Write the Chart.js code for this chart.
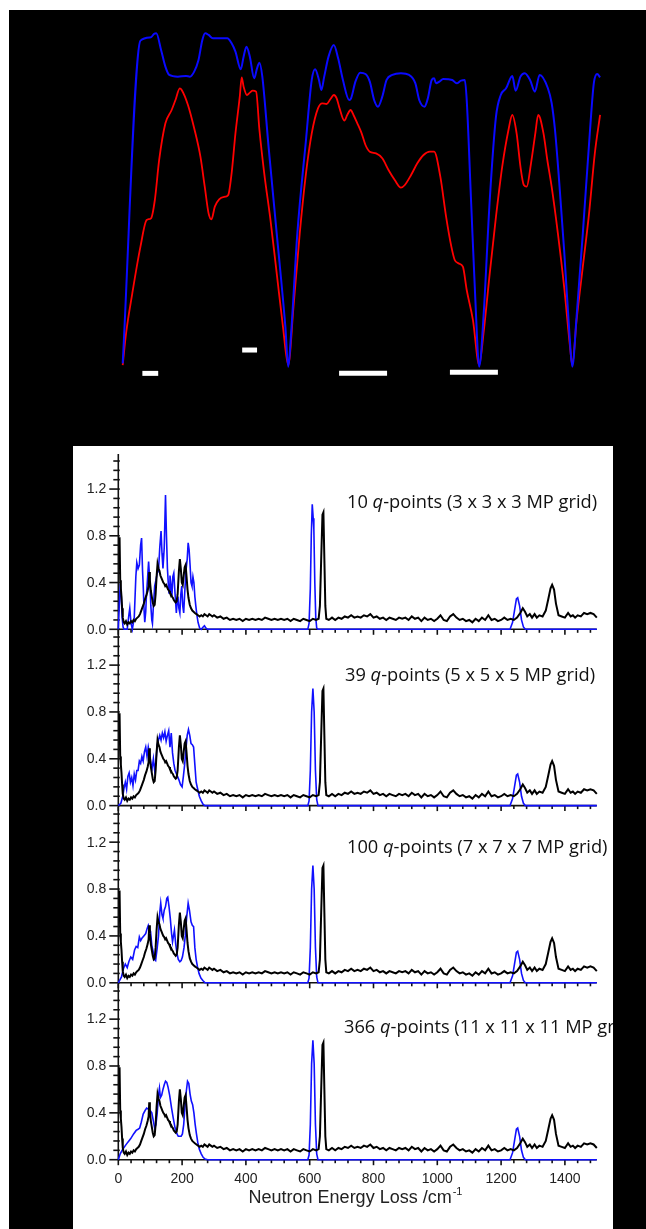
<!DOCTYPE html>
<html><head><meta charset="utf-8">
<script src="https://cdn.jsdelivr.net/npm/chart.js@4.4.1/dist/chart.umd.min.js"></script>
<style>
html,body{margin:0;padding:0;background:#fff;}
#frame{position:absolute;left:9px;top:10px;width:637px;height:1219px;background:#000;}
#sheet{position:absolute;left:73px;top:446px;width:540px;height:783px;background:#fff;}
canvas{position:absolute;}
</style></head><body>
<div id="frame"></div><div id="sheet"></div>
<script>
// ---------- TOP FIGURE: two dispersion branches (arbitrary units) ----------
const blueBranch = [[0,1],[3.7,97.8],[5.9,98.8],[6.5,99.8],[7.0,100],[8.0,95],[8.9,90],[9.7,87.5],[11.5,87],[13.2,87.2],[14.0,87],[14.9,88.5],[15.8,92],[16.6,98],[17.2,100],[17.9,99.5],[18.8,98.5],[21.8,98.5],[22.7,97],[23.5,94.5],[24.6,89.2],[25.2,93],[25.8,96],[26.5,93],[27.4,86.5],[28.0,89.5],[28.5,91.2],[29.1,87],[30.4,66],[32.1,40],[33.9,12],[34.5,0],[35.1,10],[36.4,40],[38.2,68],[39.4,86],[40.1,89.2],[40.9,86],[41.4,83],[42.0,87],[42.9,93],[44.0,96.5],[44.9,92.5],[45.9,86],[47.2,80],[47.6,80.5],[48.5,85.5],[49.5,88.2],[50.6,87.8],[51.5,85.5],[52.4,80],[53.2,78],[54.1,81],[55.0,86],[56.2,87.5],[58.0,88],[59.7,87.5],[61.0,85],[61.8,80],[62.9,78],[63.6,80.5],[64.4,86],[64.9,86.5],[65.3,85],[66.0,85.5],[66.8,86.3],[68.7,86],[69.6,85],[70.5,85.8],[71.3,86],[71.7,80],[72.6,50],[73.5,20],[74.3,0],[75.2,15],[76.5,50],[77.8,75],[78.8,81.5],[79.9,83.5],[81.2,87.2],[81.9,82.8],[82.9,87],[83.8,88],[84.9,86],[85.9,82.5],[86.9,87.5],[88.6,83.6],[89.4,79.1],[90.1,71],[91.0,55],[92.0,35],[93.1,10],[93.7,0],[94.6,15],[95.9,40],[97.4,71],[98.2,85.1],[98.9,87.8],[99.5,86.8]];
const redBranch = [[0,0.5],[0.7,10],[2.0,22],[3.7,36],[5.0,44],[5.9,44.5],[6.7,50],[7.6,62],[8.9,73],[10.2,77],[11.0,80],[11.9,83.5],[12.3,83],[13.6,78.5],[14.9,71.5],[16.2,63],[17.1,54],[17.9,46],[18.5,44.2],[19.2,48],[20.1,50.2],[21.4,51],[22.0,51.5],[22.7,58],[23.5,70],[24.4,81],[24.8,86.8],[25.2,84],[25.9,81.5],[26.5,82.2],[27.1,82.8],[27.8,82.5],[28.5,71],[29.5,58],[30.8,44],[32.1,28],[33.4,12],[34.5,0.5],[35.6,18],[36.9,40],[38.2,58],[39.4,70],[40.7,77.5],[41.6,79],[42.5,78.8],[43.3,80.3],[44.0,81.5],[44.6,80.5],[45.2,77.5],[46.2,73.8],[46.8,75.5],[47.5,77],[48.1,75.5],[48.9,73],[49.8,70],[50.6,66.5],[51.5,64.5],[52.8,64],[54.1,62.5],[55.4,59],[56.7,56],[58.0,53.7],[58.8,54.5],[60.1,57.5],[61.4,61],[62.7,63.5],[64.0,64.5],[64.9,64.5],[66.2,57],[67.4,45],[68.5,36],[69.2,32],[70.0,31],[70.9,30],[71.7,23],[73.0,14],[74.3,0.5],[75.2,10],[76.5,28],[77.8,45],[79.1,60],[80.4,71],[81.2,75.5],[82.1,70],[82.9,60],[83.6,54.5],[84.2,54],[85.1,61],[86.0,70],[86.6,75.5],[87.7,70],[88.5,62],[89.4,54],[90.7,40],[92.0,24],[93.3,5],[93.7,0.5],[94.6,14],[95.9,30],[97.2,46],[98.4,64],[99.5,75.5]];
const barStart = [4.1, 24.9, 45.1, 68.2];
const barEnd   = [7.4, 28.0, 55.1, 78.2];
const barLevel = [-2.0, 5.0, -2.0, -1.7];

// ---------- BOTTOM FIGURE: INS spectra ----------
const energyTicks = [0,200,400,600,800,1000,1200,1400];
const intensityTicks = [0.0,0.4,0.8,1.2];
const panelLabels = [
  ['10 ','q','-points (3 x 3 x 3 MP grid)'],
  ['39 ','q','-points (5 x 5 x 5 MP grid)'],
  ['100 ','q','-points (7 x 7 x 7 MP grid)'],
  ['366 ','q','-points (11 x 11 x 11 MP grid)']
];
const xTitle = 'Neutron Energy Loss /cm';
// experimental spectrum (black), identical in all panels
const expt = [[0,0.78],[4,0.78],[6,0.42],[8,0.35],[10,0.28],[12,0.18],[14,0.1],[17,0.06],[20,0.05],[24,0.07],[28,0.04],[32,0.06],[36,0.05],[40,0.07],[44,0.06],[48,0.08],[52,0.07],[56,0.09],[60,0.1],[64,0.11],[68,0.13],[72,0.16],[76,0.19],[80,0.22],[84,0.26],[88,0.29],[92,0.33],[95,0.37],[97,0.49],[99,0.42],[102,0.33],[105,0.28],[108,0.23],[111,0.2],[114,0.21],[117,0.3],[120,0.45],[123,0.56],[126,0.52],[129,0.5],[132,0.46],[135,0.44],[138,0.42],[141,0.4],[144,0.39],[147,0.37],[150,0.38],[153,0.36],[156,0.34],[159,0.33],[162,0.31],[165,0.3],[168,0.28],[171,0.27],[174,0.25],[177,0.24],[180,0.23],[183,0.24],[186,0.3],[190,0.5],[193,0.6],[196,0.52],[199,0.4],[202,0.38],[205,0.46],[208,0.53],[211,0.55],[214,0.45],[217,0.34],[220,0.27],[224,0.21],[228,0.18],[232,0.16],[236,0.15],[240,0.14],[245,0.13],[250,0.12],[255,0.11],[260,0.12],[265,0.11],[270,0.13],[275,0.12],[280,0.11],[285,0.13],[290,0.12],[295,0.11],[300,0.12],[310,0.1],[320,0.11],[330,0.09],[340,0.1],[350,0.08],[360,0.09],[370,0.08],[380,0.09],[390,0.07],[400,0.09],[410,0.08],[420,0.09],[430,0.08],[440,0.09],[450,0.08],[460,0.1],[470,0.09],[480,0.08],[490,0.09],[500,0.08],[510,0.09],[520,0.08],[530,0.09],[540,0.07],[550,0.09],[560,0.08],[570,0.07],[580,0.09],[590,0.08],[600,0.07],[610,0.09],[620,0.08],[628,0.09],[632,0.2],[636,0.6],[640,0.98],[643,1.0],[646,0.6],[649,0.2],[652,0.09],[660,0.08],[670,0.1],[680,0.08],[690,0.1],[700,0.09],[710,0.11],[720,0.1],[730,0.12],[740,0.1],[750,0.11],[760,0.1],[770,0.12],[780,0.11],[790,0.13],[800,0.1],[810,0.11],[820,0.09],[830,0.1],[840,0.08],[850,0.1],[860,0.09],[870,0.08],[880,0.1],[890,0.09],[900,0.1],[910,0.08],[920,0.11],[930,0.09],[940,0.1],[950,0.07],[960,0.1],[970,0.08],[980,0.09],[990,0.07],[1000,0.09],[1010,0.12],[1020,0.08],[1030,0.07],[1040,0.11],[1050,0.13],[1060,0.1],[1070,0.08],[1080,0.09],[1090,0.07],[1100,0.08],[1110,0.06],[1120,0.09],[1130,0.07],[1140,0.1],[1150,0.08],[1160,0.12],[1170,0.08],[1180,0.09],[1190,0.07],[1200,0.08],[1210,0.1],[1220,0.08],[1230,0.09],[1240,0.08],[1250,0.1],[1260,0.14],[1268,0.18],[1275,0.15],[1282,0.11],[1290,0.13],[1297,0.1],[1305,0.13],[1312,0.1],[1320,0.12],[1330,0.11],[1340,0.16],[1348,0.26],[1355,0.35],[1360,0.38],[1366,0.34],[1372,0.22],[1380,0.12],[1390,0.11],[1400,0.1],[1410,0.14],[1418,0.11],[1425,0.12],[1432,0.1],[1440,0.12],[1450,0.11],[1460,0.14],[1470,0.13],[1480,0.14],[1490,0.13],[1500,0.1]];
// calculated spectra (blue)
const calc10 = [[0,0],[3,0.2],[6,0.39],[9,0.3],[12,0.1],[15,0.02],[18,0],[28,0],[33,0.12],[36,0.18],[40,0.05],[44,0],[50,0.1],[55,0.45],[58,0.57],[62,0.52],[66,0.55],[70,0.72],[73,0.78],[76,0.5],[78,0.38],[81,0.15],[83,0.06],[86,0.15],[88,0.28],[92,0.45],[95,0.58],[99,0.4],[102,0.2],[105,0.08],[107,0.05],[110,0.2],[114,0.37],[118,0.42],[122,0.48],[126,0.5],[130,0.7],[134,0.84],[137,0.65],[140,0.52],[144,0.7],[148,1.15],[151,0.8],[154,0.52],[157,0.38],[159,0.31],[162,0.46],[165,0.38],[168,0.28],[171,0.45],[174,0.48],[178,0.3],[182,0.14],[185,0.25],[187,0.28],[190,0.18],[193,0.14],[196,0.3],[199,0.37],[202,0.2],[205,0.14],[208,0.3],[212,0.5],[216,0.6],[219,0.74],[222,0.68],[225,0.55],[228,0.4],[231,0.37],[234,0.45],[237,0.4],[240,0.28],[243,0.2],[246,0.13],[250,0.06],[255,0.01],[260,0],[266,0.02],[270,0.03],[275,0.01],[280,0],[594,0],[598,0.05],[602,0.35],[605,0.8],[608,1.07],[611,0.95],[613,0.86],[616,0.4],[619,0.1],[622,0.01],[626,0],[1228,0],[1236,0.06],[1242,0.16],[1248,0.26],[1252,0.27],[1258,0.2],[1264,0.08],[1270,0.02],[1276,0],[1500,0]];
const calc39 = [[0,0],[8,0.02],[14,0.08],[18,0.15],[22,0.2],[26,0.14],[30,0.25],[34,0.28],[38,0.2],[42,0.24],[46,0.17],[50,0.27],[54,0.22],[58,0.3],[62,0.3],[66,0.38],[70,0.36],[74,0.42],[78,0.38],[82,0.46],[86,0.5],[90,0.42],[94,0.5],[98,0.44],[102,0.36],[106,0.32],[110,0.4],[114,0.3],[118,0.38],[122,0.52],[126,0.56],[130,0.6],[134,0.56],[138,0.62],[142,0.58],[146,0.63],[150,0.55],[154,0.6],[158,0.64],[162,0.5],[166,0.62],[170,0.45],[174,0.36],[178,0.3],[184,0.26],[190,0.22],[195,0.18],[200,0.16],[204,0.25],[208,0.35],[212,0.48],[216,0.6],[220,0.65],[224,0.6],[228,0.53],[232,0.52],[236,0.5],[240,0.35],[244,0.2],[248,0.15],[254,0.08],[260,0.04],[266,0.01],[272,0],[594,0],[598,0.04],[602,0.3],[606,0.8],[610,1.0],[614,0.8],[618,0.3],[622,0.05],[626,0],[1228,0],[1236,0.06],[1242,0.16],[1248,0.26],[1252,0.27],[1258,0.2],[1264,0.08],[1270,0.02],[1276,0],[1500,0]];
const calc100 = [[0,0],[10,0.05],[16,0.12],[22,0.16],[28,0.13],[33,0.18],[39,0.22],[45,0.2],[51,0.28],[56,0.31],[61,0.3],[66,0.39],[70,0.36],[74,0.38],[80,0.4],[86,0.42],[90,0.46],[94,0.49],[98,0.45],[101,0.44],[105,0.32],[109,0.27],[113,0.2],[117,0.19],[122,0.3],[126,0.4],[130,0.6],[133,0.68],[137,0.58],[140,0.55],[144,0.62],[148,0.65],[152,0.72],[155,0.73],[159,0.65],[163,0.55],[167,0.42],[170,0.35],[173,0.4],[176,0.45],[180,0.33],[184,0.25],[188,0.2],[193,0.18],[197,0.19],[201,0.22],[206,0.3],[210,0.4],[214,0.55],[219,0.68],[223,0.62],[228,0.52],[232,0.49],[236,0.48],[240,0.3],[244,0.2],[248,0.14],[253,0.08],[259,0.04],[265,0.02],[272,0],[594,0],[598,0.04],[602,0.3],[606,0.8],[610,1.0],[614,0.8],[618,0.3],[622,0.05],[626,0],[1228,0],[1236,0.06],[1242,0.16],[1248,0.26],[1252,0.27],[1258,0.2],[1264,0.08],[1270,0.02],[1276,0],[1500,0]];
const calc366 = [[0,0],[6,0.05],[14,0.09],[22,0.12],[30,0.15],[39,0.18],[48,0.22],[56,0.25],[62,0.26],[67,0.27],[72,0.32],[78,0.39],[84,0.42],[89,0.44],[95,0.43],[100,0.42],[105,0.4],[110,0.33],[114,0.27],[118,0.3],[122,0.4],[126,0.55],[129,0.61],[132,0.53],[136,0.55],[140,0.6],[144,0.64],[148,0.67],[152,0.66],[156,0.62],[161,0.55],[167,0.44],[172,0.36],[178,0.27],[184,0.22],[188,0.2],[193,0.2],[197,0.2],[201,0.22],[205,0.3],[209,0.45],[213,0.58],[217,0.67],[221,0.65],[225,0.56],[229,0.5],[233,0.47],[237,0.4],[241,0.3],[245,0.22],[249,0.15],[254,0.09],[260,0.05],[266,0.02],[272,0.005],[280,0],[594,0],[598,0.04],[602,0.3],[606,0.82],[610,1.02],[614,0.82],[618,0.3],[622,0.05],[626,0],[1228,0],[1236,0.06],[1242,0.16],[1248,0.26],[1252,0.27],[1258,0.2],[1264,0.08],[1270,0.02],[1276,0],[1500,0]];
const calcSets = [calc10, calc39, calc100, calc366];

// ---------- layout (page pixels) ----------
const SHEET_L = 73, SHEET_R = 613;
const AXIS_L = 118.3, AXIS_R = 596.8;
const panelTop = [454.3, 630.4, 806.8, 983.5];
const panelBot = [629.6, 806.0, 982.6, 1159.2];
const labelX = [347, 345, 347, 344];
const labelBase = [508, 681, 853, 1033];

function pts(a){ return a.map(p => ({x:p[0], y:p[1]})); }
function mk(id, l, t, w, h){
  const c = document.createElement('canvas');
  c.id = id; c.width = Math.round(w); c.height = Math.round(h);
  c.style.left = l + 'px'; c.style.top = t + 'px';
  c.style.width = Math.round(w) + 'px'; c.style.height = Math.round(h) + 'px';
  document.body.appendChild(c); return c;
}
const common = {responsive:false, animation:false, events:[], plugins:{legend:{display:false}, tooltip:{enabled:false}}};

// ----- top chart -----
(function(){
  const L = 9, T = 10, W = 637, H = 436;
  const cv = mk('top', L, T, W, H);
  const ds = [
    {data:pts(blueBranch), borderColor:'#0a0aff', borderWidth:2, pointRadius:0, clip:false, cubicInterpolationMode:'monotone'},
    {data:pts(redBranch), borderColor:'#ff0000', borderWidth:1.8, pointRadius:0, clip:false, cubicInterpolationMode:'monotone'}
  ];
  for (let i=0;i<barStart.length;i++){
    ds.push({data:[{x:barStart[i],y:barLevel[i]},{x:barEnd[i],y:barLevel[i]}], borderColor:'#ffffff', borderWidth:5, borderCapStyle:'butt', pointRadius:0, clip:false});
  }
  new Chart(cv, {type:'line', data:{datasets:ds}, options:Object.assign({}, common, {
    layout:{padding:{left:122.7-L, right:(L+W)-602.5, top:33.3-T, bottom:(T+H)-366.7}},
    scales:{x:{type:'linear', min:0, max:100, display:false}, y:{type:'linear', min:0, max:100, display:false}}
  })});
})();

// ----- bottom panels -----
const axesPlugin = {
  id:'insAxes',
  beforeDatasetsDraw(chart){
    const {ctx} = chart, xs = chart.scales.x, ys = chart.scales.y;
    const x0 = xs.getPixelForValue(0), x1 = xs.getPixelForValue(1500);
    const y0 = ys.getPixelForValue(0), yt = ys.getPixelForValue(1.5);
    ctx.save();
    ctx.strokeStyle = '#111'; ctx.lineWidth = 1.6;
    ctx.beginPath(); ctx.moveTo(x0, y0); ctx.lineTo(x0, yt); ctx.stroke();
    for (let k=0;k<=18;k++){
      const v = k*0.08; if (v>1.5) break;
      const yy = ys.getPixelForValue(v);
      const major = (k%5===0);
      ctx.beginPath(); ctx.moveTo(x0-(major?9:5), yy); ctx.lineTo(x0+1.5, yy); ctx.stroke();
    }
    ctx.beginPath(); ctx.moveTo(x0, y0); ctx.lineTo(x1, y0); ctx.stroke();
    for (let e=0;e<1500;e+=40){
      const xx = xs.getPixelForValue(e);
      const major = (e%200===0);
      ctx.beginPath(); ctx.moveTo(xx, y0); ctx.lineTo(xx, y0+(major?5.5:3.5)); ctx.stroke();
    }
    ctx.restore();
  },
  afterDatasetsDraw(chart, args, opts){
    const {ctx} = chart, xs = chart.scales.x, ys = chart.scales.y;
    const x0 = xs.getPixelForValue(0);
    ctx.save();
    ctx.fillStyle = '#222';
    ctx.font = '14px "Liberation Sans", Arial, sans-serif';
    ctx.textAlign = 'right'; ctx.textBaseline = 'middle';
    intensityTicks.forEach(v => ctx.fillText(v.toFixed(1), x0-12, ys.getPixelForValue(v)+0.5));
    if (opts.last){
      ctx.textAlign = 'center'; ctx.textBaseline = 'top';
      const y0 = ys.getPixelForValue(0);
      energyTicks.forEach(e => ctx.fillText(String(e), xs.getPixelForValue(e), y0+12));
      ctx.textAlign = 'left'; ctx.textBaseline = 'alphabetic';
      ctx.font = '18px "Liberation Sans", Arial, sans-serif';
      const w = ctx.measureText(xTitle).width;
      ctx.font = '11px "Liberation Sans", Arial, sans-serif';
      const ws = ctx.measureText('-1').width;
      const cx = xs.getPixelForValue(742), sx = cx - (w+ws)/2;
      const by = y0 + 43;
      ctx.font = '18px "Liberation Sans", Arial, sans-serif';
      ctx.fillText(xTitle, sx, by);
      ctx.font = '11px "Liberation Sans", Arial, sans-serif';
      ctx.fillText('-1', sx+w+1, by-8);
    }
    const parts = panelLabels[opts.idx];
    const fam = '"Open Sans", "Noto Sans", sans-serif';
    const ref = panelLabels[0];
    ctx.font = '16px ' + fam;
    let wref = ctx.measureText(ref[0]+ref[2]).width;
    ctx.font = 'italic 16px ' + fam; wref += ctx.measureText(ref[1]).width;
    const size = 16*250/wref;
    let px = opts.lx - chart.canvas.offsetLeft, py = opts.lb - chart.canvas.offsetTop;
    ctx.fillStyle = '#111'; ctx.textAlign='left'; ctx.textBaseline='alphabetic';
    ctx.font = size.toFixed(2)+'px '+fam; ctx.fillText(parts[0], px, py); px += ctx.measureText(parts[0]).width;
    ctx.font = 'italic '+size.toFixed(2)+'px '+fam; ctx.fillText(parts[1], px, py); px += ctx.measureText(parts[1]).width;
    ctx.font = size.toFixed(2)+'px '+fam; ctx.fillText(parts[2], px, py);
    ctx.restore();
  }
};

for (let i=0;i<4;i++){
  const last = (i===3);
  const T = panelTop[i]-12, B = last ? 1229 : panelBot[i]+9;
  const cv = mk('p'+i, SHEET_L, T, SHEET_R-SHEET_L, B-T);
  const H = Math.round(B-T);
  new Chart(cv, {type:'line', data:{datasets:[
      {data:pts(expt), borderColor:'#000', borderWidth:2, pointRadius:0, tension:0, clip:false},
      {data:pts(calcSets[i]), borderColor:'#1010ff', borderWidth:1.6, pointRadius:0, tension:0, clip:false}
    ]},
    options:Object.assign({}, common, {
      layout:{padding:{left:AXIS_L-SHEET_L, right:SHEET_R-AXIS_R, top:panelTop[i]-T, bottom:(T+H)-panelBot[i]}},
      scales:{x:{type:'linear', min:0, max:1500, display:false}, y:{type:'linear', min:0, max:1.5, display:false}},
      plugins:{legend:{display:false}, tooltip:{enabled:false}, insAxes:{idx:i, last:last, lx:labelX[i], lb:labelBase[i]}}
    }),
    plugins:[axesPlugin]
  });
}
</script>
</body></html>
